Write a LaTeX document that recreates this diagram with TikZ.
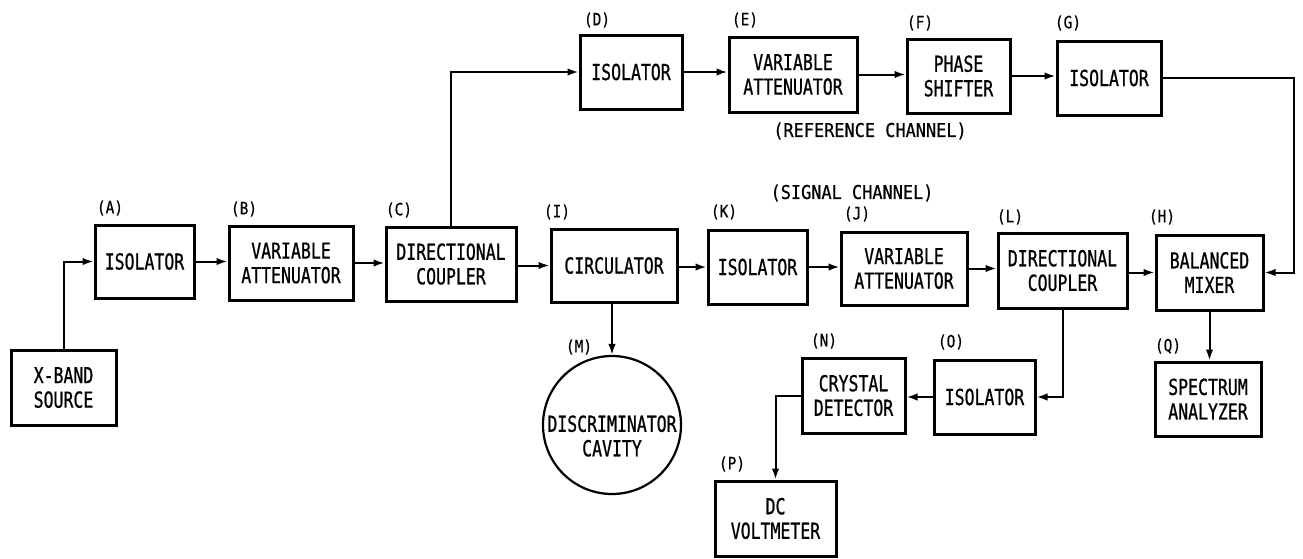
\documentclass[tikz,border=0pt]{standalone}
\usepackage{fontspec}
\usetikzlibrary{arrows.meta}
\newfontfamily\boxfont{DejaVu Sans Mono}[FakeStretch=0.75,FakeBold=0.8]
\newfontfamily\lblfont{DejaVu Sans Mono}[FakeStretch=0.85,FakeBold=0.5]
\newfontfamily\chfont{DejaVu Sans Mono}[FakeStretch=0.89,FakeBold=0.6]
\begin{document}
\begin{tikzpicture}[x=1pt,y=-1pt,
  blk/.style={draw, line width=3pt, inner sep=0pt, align=center,
    font=\boxfont\fontsize{22}{24.5}\selectfont},
  lbl/.style={inner sep=0pt, font=\lblfont\fontsize{17}{17}\selectfont},
  chn/.style={inner sep=0pt, font=\chfont\fontsize{19}{19}\selectfont},
  conn/.style={line width=2pt, -{Latex[length=11pt,width=7.5pt]}},
]
\useasboundingbox (0,0) rectangle (1303,558);

% blocks
\node[blk, minimum width=105pt, minimum height=75pt] (X) at (63.5,387.5) {X-BAND\\SOURCE};
\node[blk, minimum width=99pt,  minimum height=73pt] (A) at (144.5,261.5) {ISOLATOR};
\node[blk, minimum width=124pt, minimum height=74pt] (B) at (291,263) {VARIABLE\\ATTENUATOR};
\node[blk, minimum width=130pt, minimum height=74pt] (C) at (451,264) {DIRECTIONAL\\COUPLER};
\node[blk, minimum width=126pt, minimum height=73pt] (I) at (614,265.5) {CIRCULATOR};
\node[blk, minimum width=99pt,  minimum height=74pt] (K) at (757.5,267) {ISOLATOR};
\node[blk, minimum width=126pt, minimum height=73pt] (J) at (904,268.5) {VARIABLE\\ATTENUATOR};
\node[blk, minimum width=129pt, minimum height=75pt] (L) at (1062.5,270.5) {DIRECTIONAL\\COUPLER};
\node[blk, minimum width=107pt, minimum height=75pt] (H) at (1209.5,272.5) {BALANCED\\MIXER};
\node[blk, minimum width=102pt, minimum height=74pt] (D) at (631,72) {ISOLATOR};
\node[blk, minimum width=128pt, minimum height=75pt] (E) at (793,74.5) {VARIABLE\\ATTENUATOR};
\node[blk, minimum width=103pt, minimum height=74pt] (F) at (958.5,76) {PHASE\\SHIFTER};
\node[blk, minimum width=104pt, minimum height=74pt] (G) at (1109,78) {ISOLATOR};
\node[blk, minimum width=103pt, minimum height=75pt] (N) at (853.5,395.5) {CRYSTAL\\DETECTOR};
\node[blk, minimum width=101pt, minimum height=74pt] (O) at (984.5,397) {ISOLATOR};
\node[blk, minimum width=121pt, minimum height=75pt] (P) at (775.5,518.5) {DC\\VOLTMETER};
\node[blk, minimum width=106pt, minimum height=74pt] (Q) at (1208,399) {SPECTRUM\\ANALYZER};
\node[draw, circle, line width=2.2pt, minimum size=138pt, inner sep=0pt] (M) at (612,425) {};
\node[inner sep=0pt, align=center, font=\boxfont\fontsize{22}{24.5}\selectfont] (Mt) at (612,436) {DISCRIMINATOR\\CAVITY};

% letter labels
\node[lbl] (lA) at (110,208) {(A)};
\node[lbl] (lB) at (244,209) {(B)};
\node[lbl] (lC) at (399,210) {(C)};
\node[lbl] (lD) at (597,20) {(D)};
\node[lbl] (lE) at (745,20) {(E)};
\node[lbl] (lF) at (920,23) {(F)};
\node[lbl] (lG) at (1068,23) {(G)};
\node[lbl] (lI) at (557,212) {(I)};
\node[lbl] (lK) at (724,212) {(K)};
\node[lbl] (lJ) at (857,214) {(J)};
\node[lbl] (lL) at (1010,217) {(L)};
\node[lbl] (lH) at (1162,217) {(H)};
\node[lbl] (lM) at (579,347) {(M)};
\node[lbl] (lN) at (824,341) {(N)};
\node[lbl] (lO) at (951,342) {(O)};
\node[lbl] (lP) at (732,464) {(P)};
\node[lbl] (lQ) at (1168,346) {(Q)};
\node[chn] (ref) at (870,131) {(REFERENCE CHANNEL)};
\node[chn] (sig) at (852,193) {(SIGNAL CHANNEL)};

\coordinate (gh) at (1294,78);

% connectors
\draw[conn] (X.north) |- (A.west);
\draw[conn] (A.east) -- (A.east -| B.west);
\draw[conn] (B.east) -- (B.east -| C.west);
\draw[conn] (I.west -| C.east) -- (I.west);
\draw[conn] (K.west -| I.east) -- (K.west);
\draw[conn] (K.east) -- (K.east -| J.west);
\draw[conn] (J.east) -- (J.east -| L.west);
\draw[conn] (H.west -| L.east) -- (H.west);
\draw[conn] (C.north) |- (D.west);
\draw[conn] (D.east) -- (D.east -| E.west);
\draw[conn] (E.east) -- (E.east -| F.west);
\draw[conn] (F.east) -- (F.east -| G.west);
\draw[conn] (G.east) -- (G.east -| gh) |- (H.east);
\draw[conn] (I.south -| M.north) -- (M.north);
\draw[conn] (L.south) |- (O.east);
\draw[conn] (O.west) -- (O.west -| N.east);
\draw[conn] (N.west) -| (P.north);
\draw[conn] (H.south) -- (H.south |- Q.north);
\end{tikzpicture}
\end{document}
